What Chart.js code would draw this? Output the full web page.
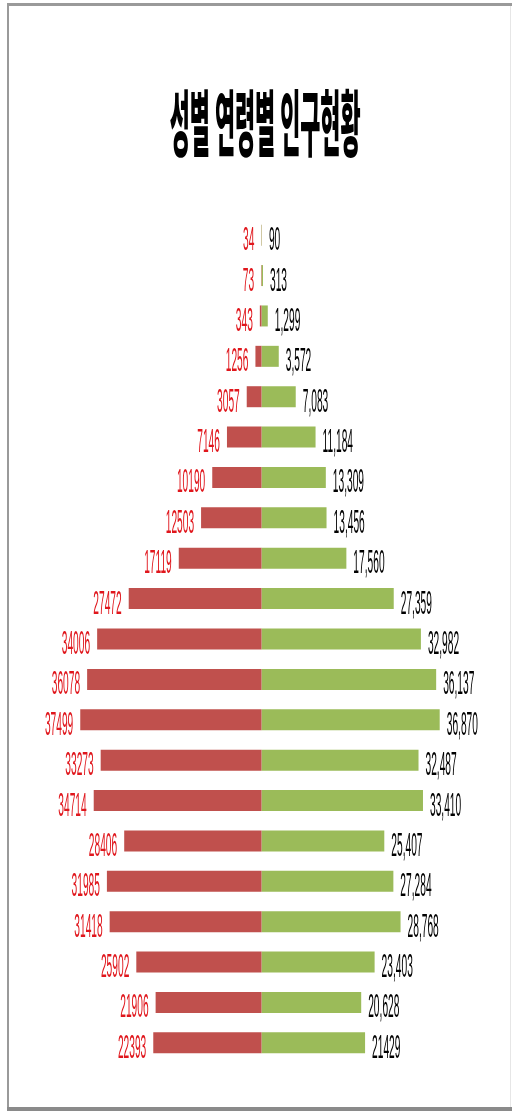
<!DOCTYPE html>
<html>
<head>
<meta charset="utf-8">
<script src="https://cdn.jsdelivr.net/npm/chart.js@4/dist/chart.umd.min.js"></script>
<style>
  html, body { margin: 0; padding: 0; background: #ffffff; }
  #wrap { width: 512px; height: 1112px; position: relative; }
  canvas { display: block; }
</style>
</head>
<body>
<div id="wrap"><canvas id="c" width="512" height="1112"></canvas></div>
<script>
const chartTitle = '성별 연령별 인구현황';
const ageGroups = ['100세 이상','95~99세','90~94세','85~89세','80~84세','75~79세','70~74세','65~69세','60~64세','55~59세','50~54세','45~49세','40~44세','35~39세','30~34세','25~29세','20~24세','15~19세','10~14세','5~9세','0~4세'];
const maleValues = [34,73,343,1256,3057,7146,10190,12503,17119,27472,34006,36078,37499,33273,34714,28406,31985,31418,25902,21906,22393];
const femaleValues = [90,313,1299,3572,7083,11184,13309,13456,17560,27359,32982,36137,36870,32487,33410,25407,27284,28768,23403,20628,21429];
const femaleNoCommaRows = [20];

const leftLabel = (i) => String(maleValues[i]);
const rightLabel = (i) => femaleNoCommaRows.includes(i) ? String(femaleValues[i]) : femaleValues[i].toLocaleString('en-US');

const framePlugin = {
  id: 'frame',
  beforeDraw(chart) {
    const ctx = chart.ctx;
    ctx.save();
    ctx.fillStyle = '#ffffff';
    ctx.fillRect(0, 0, chart.width, chart.height);
    ctx.fillStyle = '#9a9a9a';
    ctx.fillRect(7, 3, 505, 3);     // top
    ctx.fillRect(7, 3, 2, 1106);    // left
    ctx.fillStyle = '#8a8a8a';
    ctx.fillRect(7, 1107, 505, 4);  // bottom
    ctx.fillStyle = '#e6e6e6';
    ctx.fillRect(510, 6, 1, 1101);  // right faint
    ctx.restore();
  }
};

const titlePlugin = {
  id: 'squeezedTitle',
  afterDraw(chart) {
    const ctx = chart.ctx;
    ctx.save();
    ctx.font = '900 78px "Noto Sans CJK KR"';
    ctx.textBaseline = 'alphabetic';
    ctx.textAlign = 'left';
    const m = ctx.measureText(chartTitle);
    const inkW = m.actualBoundingBoxLeft + m.actualBoundingBoxRight;
    const inkH = m.actualBoundingBoxAscent + m.actualBoundingBoxDescent;
    const box = { left: 170, right: 360, top: 87, bottom: 157 };
    const sx = (box.right - box.left) / inkW;
    const sy = (box.bottom - box.top) / inkH;
    ctx.translate(box.left, box.top);
    ctx.scale(sx, sy);
    ctx.fillStyle = '#000000';
    ctx.fillText(chartTitle, m.actualBoundingBoxLeft, m.actualBoundingBoxAscent);
    ctx.restore();
  }
};

const labelPlugin = {
  id: 'barLabels',
  afterDatasetsDraw(chart) {
    const ctx = chart.ctx;
    const sx = 0.3;
    const gap = 7;
    ctx.save();
    ctx.font = '34px "Liberation Sans", Arial, sans-serif';
    ctx.textBaseline = 'alphabetic';
    const m0 = chart.getDatasetMeta(0);
    const m1 = chart.getDatasetMeta(1);
    m0.data.forEach((bar, i) => {
      const y = bar.y + 15;
      const t = leftLabel(i);
      ctx.save();
      ctx.fillStyle = '#e0161c';
      ctx.translate(bar.x - gap, y);
      ctx.scale(sx, 1);
      ctx.textAlign = 'right';
      ctx.fillText(t, 0, 0);
      ctx.restore();
      const b2 = m1.data[i];
      const t2 = rightLabel(i);
      ctx.save();
      ctx.fillStyle = '#000000';
      ctx.translate(b2.x + gap, y);
      ctx.scale(sx, 1);
      ctx.textAlign = 'left';
      ctx.fillText(t2, 0, 0);
      ctx.restore();
    });
    ctx.restore();
  }
};

new Chart(document.getElementById('c'), {
  type: 'bar',
  data: {
    labels: ageGroups,
    datasets: [
      { label: '남', data: maleValues.map(v => -v), backgroundColor: '#c0504d', borderWidth: 0, barPercentage: 0.52, categoryPercentage: 1 },
      { label: '여', data: femaleValues, backgroundColor: '#9bbb59', borderWidth: 0, barPercentage: 0.52, categoryPercentage: 1 }
    ]
  },
  options: {
    indexAxis: 'y',
    responsive: false,
    animation: false,
    devicePixelRatio: 1,
    layout: { padding: { top: 215, bottom: 49, left: 44, right: 33 } },
    scales: {
      x: { stacked: true, min: -45000, max: 45000, display: false },
      y: { stacked: true, display: false }
    },
    plugins: {
      legend: { display: false },
      title: { display: false, text: chartTitle },
      tooltip: { enabled: false }
    }
  },
  plugins: [framePlugin, titlePlugin, labelPlugin]
});
</script>
</body>
</html>
